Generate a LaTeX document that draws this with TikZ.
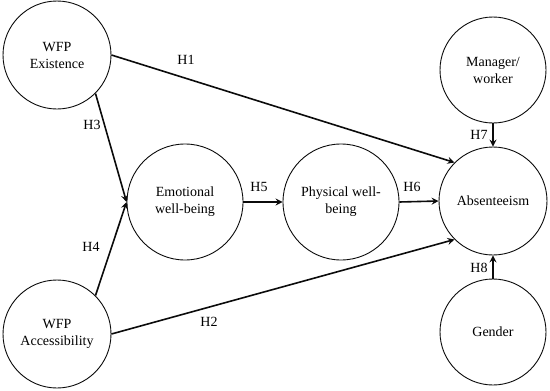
\documentclass[tikz,border=0pt]{standalone}
\usepackage{fontspec}
\setmainfont{Liberation Serif}
\usepackage{tikz}
\usetikzlibrary{arrows.meta,positioning}
\definecolor{tinta}{HTML}{0B0B0B}
\tikzset{
  constructo/.style={circle,draw=tinta,fill=white,line width=0.9pt,inner sep=0pt,minimum size=108pt,align=center,font=\fontsize{14}{17}\selectfont},
  constructogr/.style={constructo,minimum size=116pt},
  constructoch/.style={constructo,minimum size=106pt},
  hipotesis/.style={draw=tinta,line width=1.6pt,-{Stealth[length=7pt,width=7pt,inset=2.5pt]}},
  etiq/.style={font=\fontsize{14}{17}\selectfont,inner sep=1pt},
}
\begin{document}
\begin{tikzpicture}[x=1pt,y=-1pt]
\useasboundingbox (0,0) rectangle (550,391);
\node[constructo] (ex) at (57,55) {WFP\\Existence};
\node[constructo] (acc) at (57,334) {WFP\\Accessibility};
\node[constructogr] (emo) at (185,202) {Emotional\\well-being};
\node[constructogr] (phy) at (341,202) {Physical well-\\being};
\node[constructo] (abs) at (493,201) {Absenteeism};
\node[constructoch] (man) at (493,70) {Manager/\\worker};
\node[constructoch] (gen) at (493,332) {Gender};
\draw[hipotesis] (ex.east) -- (abs.north west);
\draw[hipotesis] (acc.east) -- (abs.south west);
\draw[hipotesis] (ex.south east) -- (emo.west);
\draw[hipotesis] (acc.north east) -- (emo.west);
\draw[hipotesis] (emo.east) -- (phy.west);
\draw[hipotesis] (phy.east) -- (abs.west);
\draw[hipotesis] (man.south) -- (abs.north);
\draw[hipotesis] (gen.north) -- (abs.south);
\node[etiq] (h1) at (186,60) {H1};
\node[etiq] (h2) at (209,322) {H2};
\node[etiq] (h3) at (92,125) {H3};
\node[etiq] (h4) at (91,247) {H4};
\node[etiq] (h5) at (259,187) {H5};
\node[etiq] (h6) at (412,187) {H6};
\node[etiq] (h7) at (479,135) {H7};
\node[etiq] (h8) at (479,268) {H8};
\end{tikzpicture}
\end{document}
